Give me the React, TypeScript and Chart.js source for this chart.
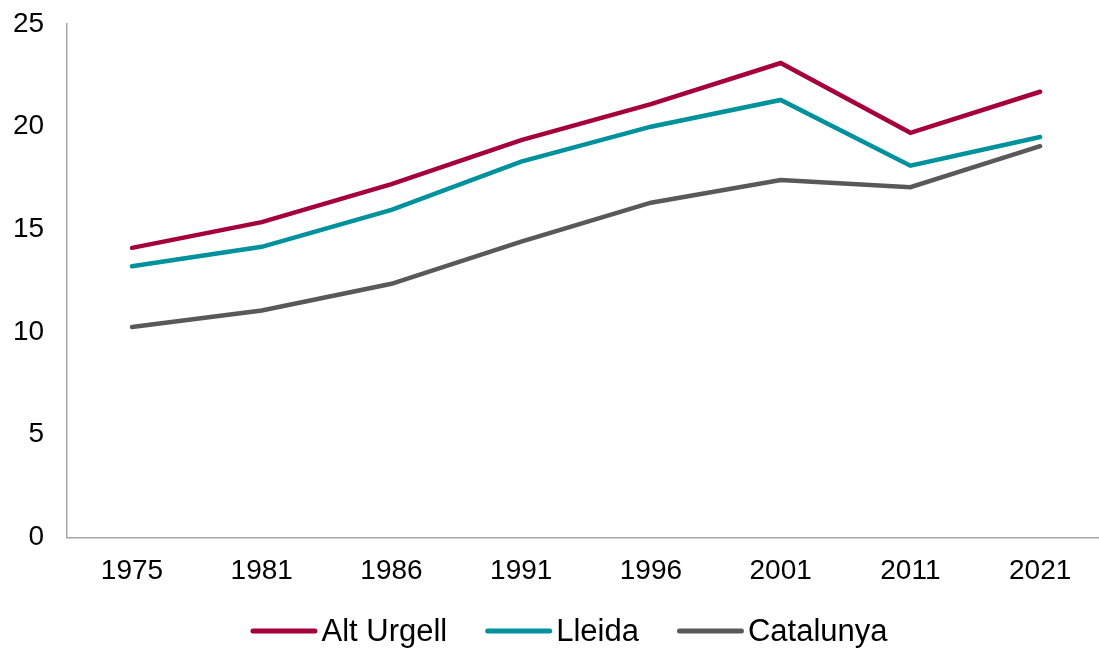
import React, { useEffect, useRef } from "react";
import { Chart, registerables } from "chart.js";

Chart.register(...registerables);

const years = ["1975", "1981", "1986", "1991", "1996", "2001", "2011", "2021"];
const altUrgell = [14.1, 15.35, 17.2, 19.35, 21.1, 23.1, 19.7, 21.7];
const lleida = [13.2, 14.15, 15.95, 18.3, 20.0, 21.3, 18.1, 19.5];
const catalunya = [10.25, 11.05, 12.35, 14.4, 16.3, 17.4, 17.05, 19.05];
const seriesNames = ["Alt Urgell", "Lleida", "Catalunya"];
const seriesColors = ["#A6003A", "#00929C", "#595959"];

const FONT = "'Liberation Sans', Arial, sans-serif";

// bottom legend drawn on the canvas
const LEGEND_CX = 569;
const LEGEND_Y = 632.5;
const SWATCH_W = 67;
const SWATCH_GAP = 4;
const ITEM_GAP = 38;
const LEGEND_FONT = 31;

const bottomLegend = {
  id: "bottomLegend",
  afterDraw(chart: any) {
    const ctx = chart.ctx as CanvasRenderingContext2D;
    ctx.save();
    ctx.font = `${LEGEND_FONT}px ${FONT}`;
    const items = chart.data.datasets.map((ds: any) => ({
      text: ds.label as string,
      color: ds.borderColor as string,
      w: ctx.measureText(ds.label).width,
    }));
    const total =
      items.reduce((s: number, it: any) => s + SWATCH_W + SWATCH_GAP + it.w, 0) +
      ITEM_GAP * (items.length - 1);
    let x = LEGEND_CX - total / 2;
    for (const it of items) {
      ctx.strokeStyle = it.color;
      ctx.lineWidth = 5;
      ctx.lineCap = "round";
      ctx.beginPath();
      ctx.moveTo(x + 2.5, LEGEND_Y - 1.5);
      ctx.lineTo(x + SWATCH_W - 2.5, LEGEND_Y - 1.5);
      ctx.stroke();
      ctx.fillStyle = "#000";
      ctx.textBaseline = "middle";
      ctx.textAlign = "left";
      ctx.fillText(it.text, x + SWATCH_W + SWATCH_GAP, LEGEND_Y);
      x += SWATCH_W + SWATCH_GAP + it.w + ITEM_GAP;
    }
    ctx.restore();
  },
};

export default function App() {
  const ref = useRef<HTMLCanvasElement | null>(null);
  useEffect(() => {
    if (!ref.current) return;
    const values = [altUrgell, lleida, catalunya];
    const chart = new Chart(ref.current, {
      type: "line",
      data: {
        labels: years,
        datasets: values.map((v, i) => ({
          label: seriesNames[i],
          data: v,
          borderColor: seriesColors[i],
          backgroundColor: seriesColors[i],
          borderWidth: 4.5,
          borderCapStyle: "round",
          pointRadius: 0,
          pointHoverRadius: 0,
          tension: 0,
          fill: false,
        })),
      },
      options: {
        animation: false,
        responsive: false,
        devicePixelRatio: 1,
        layout: { padding: { left: -10, right: 15, top: 24, bottom: 47 } },
        plugins: {
          tooltip: { enabled: false },
          legend: { display: false },
        },
        scales: {
          x: {
            offset: true,
            grid: { display: false, drawTicks: false },
            border: { display: true, color: "#A6A6A6", width: 1.5 },
            ticks: { color: "#000", padding: 17, font: { family: FONT, size: 28 }, maxRotation: 0 },
          },
          y: {
            min: 0,
            max: 25,
            grid: { display: false, drawTicks: false },
            border: { display: true, color: "#A6A6A6", width: 1.5 },
            ticks: { stepSize: 5, color: "#000", padding: 23, font: { family: FONT, size: 28 } },
            afterFit: (scale: any) => {
              scale.paddingTop = 0;
              scale.paddingBottom = 0;
            },
          },
        },
      },
      plugins: [bottomLegend],
    });
    return () => chart.destroy();
  }, []);
  return (
    <div style={{ position: "fixed", left: 0, top: 0, width: 1099, height: 652, overflow: "hidden", background: "#fff" }}>
      <canvas ref={ref} width={1120} height={652} style={{ width: 1120, height: 652, display: "block" }} />
    </div>
  );
}
